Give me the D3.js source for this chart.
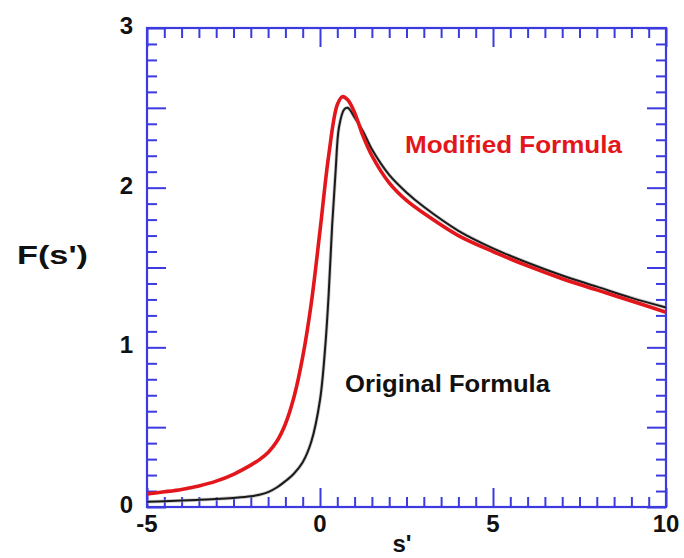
<!DOCTYPE html>
<html>
<head>
<meta charset="utf-8">
<script src="https://cdn.jsdelivr.net/npm/d3@7"></script>
<style>
  html, body { margin: 0; padding: 0; background: #fff; }
  svg text { font-family: "Liberation Sans", Arial, Helvetica, sans-serif; font-weight: bold; }
</style>
</head>
<body>
<svg id="chart" width="684" height="558"></svg>
<script>
// s' sample points and the two F(s') curves
const sValues = [-5, -4.5, -4, -3.5, -3, -2.5, -2, -1.75, -1.5, -1.25, -1, -0.75, -0.5, -0.25, 0, 0.25, 0.5, 0.65, 0.8, 1, 1.25, 1.5, 2, 2.5, 3, 4, 5, 6, 7, 8, 9, 10];
const modifiedF = [0.082, 0.095, 0.11, 0.132, 0.162, 0.205, 0.262, 0.297, 0.342, 0.41, 0.52, 0.69, 0.94, 1.28, 1.73, 2.2, 2.52, 2.57, 2.55, 2.47, 2.32, 2.2, 2.03, 1.92, 1.84, 1.70, 1.60, 1.51, 1.43, 1.36, 1.29, 1.22];

const sOriginal = [-5, -4.5, -4, -3.5, -3, -2.5, -2, -1.75, -1.5, -1.25, -1, -0.75, -0.5, -0.25, 0, 0.15, 0.25, 0.35, 0.45, 0.55, 0.7, 0.8, 1, 1.25, 1.5, 2, 2.5, 3, 4, 5, 6, 7, 8, 9, 10];
const originalF = [0.033, 0.036, 0.04, 0.045, 0.05, 0.057, 0.067, 0.077, 0.093, 0.122, 0.162, 0.21, 0.28, 0.41, 0.67, 1.0, 1.33, 1.76, 2.1, 2.38, 2.49, 2.50, 2.44, 2.35, 2.24, 2.08, 1.97, 1.88, 1.73, 1.62, 1.53, 1.45, 1.38, 1.31, 1.25];

const xTickLabels = [-5, 0, 5, 10];
const yTickLabels = [0, 1, 2, 3];
const seriesNames = ["Original Formula", "Modified Formula"];

const svg = d3.select("#chart");
const plotLeft = 147, plotRight = 666, plotTop = 28, plotBottom = 507;
const x = d3.scaleLinear().domain([-5, 10]).range([plotLeft, plotRight]);
const y = d3.scaleLinear().domain([0, 3]).range([plotBottom, plotTop]);

const axisColor = "#3b3be0";
const minorLen = 10, majorLen = 19;

// tick positions
const xMinor = d3.range(-5, 10.001, 0.5).filter(v => !xTickLabels.includes(v));
const yMinor = d3.range(0, 31).map(v => v / 10).filter(v => Math.abs(v * 2 - Math.round(v * 2)) > 1e-6);
const yMajor = d3.range(0, 7).map(v => v / 2);

function styleAxis(g) {
  g.select(".domain").remove();
  g.selectAll("line").attr("stroke", axisColor).attr("stroke-width", 2);
  g.selectAll("text").remove();
}

// bottom and top axes
[[xMinor, minorLen], [xTickLabels, majorLen]].forEach(([vals, len]) => {
  svg.append("g").attr("transform", `translate(0,${plotBottom})`)
    .call(d3.axisBottom(x).tickValues(vals).tickSize(-len)).call(styleAxis);
  svg.append("g").attr("transform", `translate(0,${plotTop})`)
    .call(d3.axisTop(x).tickValues(vals).tickSize(-len)).call(styleAxis);
});
// left and right axes
[[yMinor, minorLen], [yMajor, majorLen]].forEach(([vals, len]) => {
  svg.append("g").attr("transform", `translate(${plotLeft},0)`)
    .call(d3.axisLeft(y).tickValues(vals).tickSize(-len)).call(styleAxis);
  svg.append("g").attr("transform", `translate(${plotRight},0)`)
    .call(d3.axisRight(y).tickValues(vals).tickSize(-len)).call(styleAxis);
});

// frame
svg.append("rect")
  .attr("x", plotLeft).attr("y", plotTop)
  .attr("width", plotRight - plotLeft).attr("height", plotBottom - plotTop)
  .attr("fill", "none").attr("stroke", axisColor).attr("stroke-width", 2.2);

// tick labels
svg.append("g").selectAll("text").data(xTickLabels).join("text")
  .attr("x", d => x(d)).attr("y", 532)
  .attr("text-anchor", "middle").attr("font-size", 24).attr("fill", "#111")
  .text(d => d);
svg.append("g").selectAll("text").data(yTickLabels).join("text")
  .attr("x", 133).attr("y", d => y(d) + 6)
  .attr("text-anchor", "end").attr("font-size", 24).attr("fill", "#111")
  .text(d => d);

// axis titles
svg.append("text").attr("x", 402).attr("y", 552).attr("text-anchor", "middle")
  .attr("font-size", 24).attr("fill", "#111").text("s'");
svg.append("text").attr("x", 17).attr("y", 264)
  .attr("font-size", 26).attr("fill", "#111")
  .attr("textLength", 71).attr("lengthAdjust", "spacingAndGlyphs").text("F(s')");

// curves
const line = d3.line().x(d => x(d[0])).y(d => y(d[1])).curve(d3.curveCatmullRom.alpha(0.5));
svg.append("path")
  .datum(d3.zip(sOriginal, originalF))
  .attr("d", line).attr("fill", "none")
  .attr("stroke", "#aaa").attr("stroke-width", 3.6).attr("stroke-opacity", 0.6);
svg.append("path")
  .datum(d3.zip(sOriginal, originalF))
  .attr("d", line).attr("fill", "none")
  .attr("stroke", "#1a1a1a").attr("stroke-width", 2);
svg.append("path")
  .datum(d3.zip(sValues, modifiedF))
  .attr("d", line).attr("fill", "none")
  .attr("stroke", "#e3161b").attr("stroke-width", 3.6);

// series labels
svg.append("text").attr("x", 405).attr("y", 153)
  .attr("font-size", 24).attr("fill", "#e3161b")
  .attr("textLength", 217).attr("lengthAdjust", "spacingAndGlyphs")
  .text(seriesNames[1]);
svg.append("text").attr("x", 345).attr("y", 392)
  .attr("font-size", 24).attr("fill", "#111")
  .attr("textLength", 205).attr("lengthAdjust", "spacingAndGlyphs")
  .text(seriesNames[0]);
</script>
</body>
</html>
